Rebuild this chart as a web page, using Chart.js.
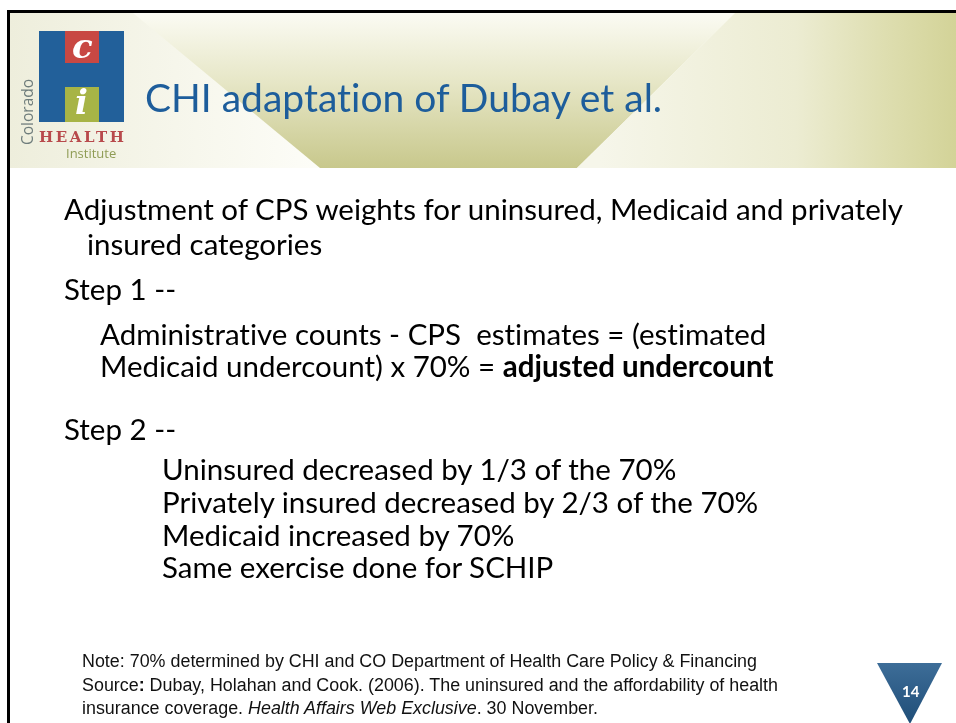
<!DOCTYPE html>
<html>
<head>
<meta charset="utf-8">
<script src="https://cdn.jsdelivr.net/npm/chart.js@4"></script>
<style>
  html, body { margin: 0; padding: 0; background: #fff; }
  #slide { position: relative; width: 956px; height: 723px; overflow: hidden; }
  #bg { position: absolute; left: 0; top: 0; }
  .t { position: absolute; white-space: nowrap; font-family: Lato, "Open Sans", sans-serif; color: #000; font-variant-ligatures: none; }
  .body { font-size: 29.5px; line-height: 30px; }
  #title { left: 145px; top: 74px; font-size: 39px; line-height: 47px; color: #1d5d9b; }
  .note { font-family: "Liberation Sans Narrow", "Liberation Sans", Arial, sans-serif; font-size: 18px; line-height: 20px; color: #111; transform-origin: 0 0; }
  .logo { position: absolute; white-space: nowrap; }
</style>
</head>
<body>
<div id="slide">
  <canvas id="bg" width="956" height="723"></canvas>
  <div id="title" class="t">CHI adaptation of Dubay et al.</div>
  <div class="logo" style="left:72px;top:26px;font:italic bold 34px 'DejaVu Serif',serif;color:#fff;">c</div>
  <div class="logo" style="left:75px;top:82px;font:italic bold 34px 'DejaVu Serif',serif;color:#fff;">i</div>
  <div class="logo" style="left:16px;top:145px;font:15.5px 'Open Sans',sans-serif;color:#6f7d7c;transform:rotate(-90deg);transform-origin:0 0;">Colorado</div>
  <div class="logo" style="left:39px;top:128px;font:bold 15px 'DejaVu Serif',serif;letter-spacing:2.6px;color:#b84a4c;">HEALTH</div>
  <div class="logo" style="left:66px;top:144px;font:13px 'Open Sans',sans-serif;color:#8f9c55;">Institute</div>
  <div class="logo" style="left:902px;top:682px;font:bold 15px Lato,sans-serif;color:#fff;">14</div>
</div>
<script>
// slide text, line by line
const introLines = ['Adjustment of CPS weights for uninsured, Medicaid and privately', 'insured categories'];
const step1Lines = ['Step 1 --', 'Administrative counts - CPS&nbsp; estimates = (estimated', 'Medicaid undercount) x 70% = <b>adjusted undercount</b>'];
const step2Lines = ['Step 2 --', 'Uninsured decreased by 1/3 of the 70%', 'Privately insured decreased by 2/3 of the 70%', 'Medicaid increased by 70%', 'Same exercise done for SCHIP'];
const noteLines = [
  'Note: 70% determined by CHI and CO Department of Health Care Policy &amp; Financing',
  'Source<b>:</b> Dubay, Holahan and Cook. (2006). The uninsured and the affordability of health',
  'insurance coverage. <i>Health Affairs Web Exclusive</i>. 30 November.'
];
const bodyLeft = [64, 87, 64, 100, 100, 64, 162, 162, 162, 162];
const bodyTop = [194, 229, 274, 319, 351, 414, 454, 487, 520, 552];
const noteTop = [651, 675, 698];

const slide = document.getElementById('slide');
const allBody = introLines.concat(step1Lines, step2Lines);
allBody.forEach((txt, i) => {
    const d = document.createElement('div');
    d.className = 't body';
    d.style.left = bodyLeft[i] + 'px';
    d.style.top = bodyTop[i] + 'px';
    d.innerHTML = txt;
    slide.appendChild(d);
});

const noteEls = noteLines.map((txt, i) => {
    const d = document.createElement('div');
    d.className = 't note';
    d.style.left = '82px';
    d.style.top = noteTop[i] + 'px';
    d.innerHTML = txt;
    slide.appendChild(d);
    return d;
});
// squeeze the note to the narrow width seen on the slide
const noteScale = 675 / noteEls[0].getBoundingClientRect().width;
noteEls.forEach(d => { d.style.transform = 'scaleX(' + noteScale + ')'; });

// background of the slide: header band, logo blocks, border, page triangle
const slideBackground = {
    id: 'slideBackground',
    beforeDraw(chart) {
        const c = chart.ctx;
        c.save();
        c.fillStyle = '#ffffff';
        c.fillRect(0, 0, 956, 723);

        // header: cream left part
        let g = c.createLinearGradient(10, 0, 320, 0);
        g.addColorStop(0, '#eeeedc');
        g.addColorStop(1, '#fdfdf8');
        c.fillStyle = g;
        c.fillRect(10, 13, 946, 155);

        // olive band between two diagonals
        g = c.createLinearGradient(0, 13, 0, 168);
        g.addColorStop(0, '#fbfbf3');
        g.addColorStop(0.45, '#e6e6c6');
        g.addColorStop(1, '#c8c88c');
        c.fillStyle = g;
        c.beginPath();
        c.moveTo(133, 13);
        c.lineTo(735, 13);
        c.lineTo(577, 168);
        c.lineTo(320, 168);
        c.closePath();
        c.fill();

        // right part after the second diagonal
        g = c.createLinearGradient(600, 0, 956, 0);
        g.addColorStop(0, '#f6f6ea');
        g.addColorStop(0.55, '#ececd2');
        g.addColorStop(0.8, '#dedeb0');
        g.addColorStop(1, '#d3d398');
        c.fillStyle = g;
        c.beginPath();
        c.moveTo(735, 13);
        c.lineTo(956, 13);
        c.lineTo(956, 168);
        c.lineTo(577, 168);
        c.closePath();
        c.fill();

        // logo
        c.fillStyle = '#22609a';
        c.fillRect(39, 31, 85, 91);
        c.fillStyle = '#c84843';
        c.fillRect(65, 31, 34, 32);
        c.fillStyle = '#a7b446';
        c.fillRect(65, 87, 34, 35);

        // border of the slide
        c.fillStyle = '#000';
        c.fillRect(7, 10, 949, 3);
        c.fillRect(7, 10, 3, 713);

        // page number triangle
        g = c.createLinearGradient(0, 663, 0, 723);
        g.addColorStop(0, '#3d6d98');
        g.addColorStop(1, '#1f4e78');
        c.fillStyle = g;
        c.beginPath();
        c.moveTo(877, 663);
        c.lineTo(942, 663);
        c.lineTo(910, 724);
        c.closePath();
        c.fill();
        c.restore();
    }
};

const bgCtx = document.getElementById('bg').getContext('2d');
new Chart(bgCtx, {
    type: 'scatter',
    data: { datasets: [] },
    options: {
        responsive: false,
        animation: false,
        events: [],
        layout: { padding: 0 },
        plugins: { legend: { display: false }, tooltip: { enabled: false } },
        scales: { x: { display: false }, y: { display: false } }
    },
    plugins: [slideBackground]
});
</script>
</body>
</html>
